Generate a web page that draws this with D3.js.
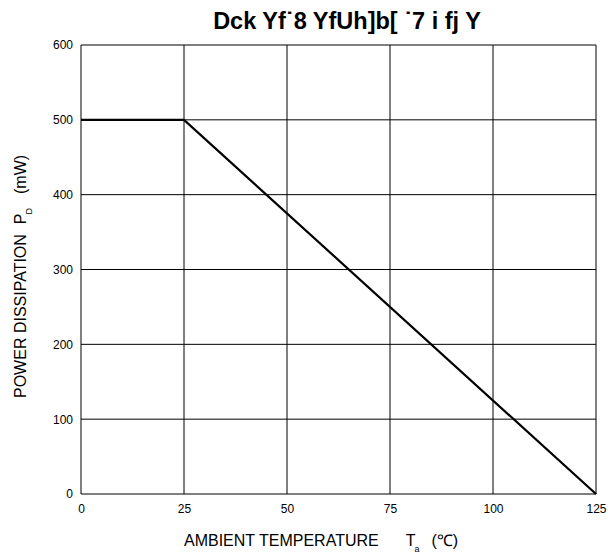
<!DOCTYPE html>
<html lang="en">
<head>
  <meta charset="UTF-8">
  <title>Power Derating Curve</title>
  <script src="https://d3js.org/d3.v7.min.js"></script>
  <style>
    body { margin: 0; background: #fff; font-family: "Liberation Sans", Arial, sans-serif; }
    .tick text { font-size: 12px; fill: #000; }
    .label { font-size: 16px; fill: #000; }
  </style>
</head>
<body>
  <svg width="608" height="553"></svg>
  <script>
    const temps = [0, 25, 125];
    const power = [500, 500, 0];
    const xTicks = [0, 25, 50, 75, 100, 125];
    const yTicks = [0, 100, 200, 300, 400, 500, 600];

    const svg = d3.select("svg"),
          margin = {top: 45, right: 12, bottom: 59, left: 81};
    const width = 608, height = 553;

    const x = d3.scaleLinear().domain([0, 125]).range([margin.left, width - margin.right]);
    const y = d3.scaleLinear().domain([0, 600]).range([height - margin.bottom, margin.top]);

    // grid
    svg.append("g").selectAll("line").data(xTicks).enter().append("line")
      .attr("x1", d => x(d)).attr("x2", d => x(d))
      .attr("y1", y(0)).attr("y2", y(600))
      .attr("stroke", "#000").attr("stroke-width", 1);
    svg.append("g").selectAll("line").data(yTicks).enter().append("line")
      .attr("x1", x(0)).attr("x2", x(125))
      .attr("y1", d => y(d)).attr("y2", d => y(d))
      .attr("stroke", "#000").attr("stroke-width", 1);

    // axes (labels only)
    const xAxis = svg.append("g")
      .attr("transform", `translate(0,${y(0)})`)
      .call(d3.axisBottom(x).tickValues(xTicks).tickSize(0).tickPadding(10).tickFormat(d3.format("d")));
    xAxis.select(".domain").remove();
    const yAxis = svg.append("g")
      .attr("transform", `translate(${x(0)},0)`)
      .call(d3.axisLeft(y).tickValues(yTicks).tickSize(0).tickPadding(8).tickFormat(d3.format("d")));
    yAxis.select(".domain").remove();
    svg.selectAll(".tick text").attr("font-family", "Liberation Sans, Arial, sans-serif");

    // data line
    const pts = temps.map((t, i) => [t, power[i]]);
    svg.append("path")
      .datum(pts)
      .attr("fill", "none")
      .attr("stroke", "#000")
      .attr("stroke-width", 2.2)
      .attr("d", d3.line().x(d => x(d[0])).y(d => y(d[1])));

    // title
    svg.append("text")
      .attr("x", 347).attr("y", 29)
      .attr("text-anchor", "middle")
      .attr("font-weight", "bold")
      .attr("font-size", 23.5)
      .text("Dck Yf\u02D98 YfUh]b[ \u02D97 i fj Y");

    // x label
    const xl = svg.append("text").attr("class", "label")
      .attr("x", 184).attr("y", 546);
    xl.append("tspan").text("AMBIENT TEMPERATURE");
    xl.append("tspan").attr("dx", 27).text("T");
    xl.append("tspan").attr("dy", 6).attr("dx", -1).attr("font-size", 9).text("a");
    xl.append("tspan").attr("dy", -6).attr("dx", 12).text("(\u2103)");

    // y label
    const yl = svg.append("text").attr("class", "label")
      .attr("transform", "translate(26,398) rotate(-90)");
    yl.append("tspan").text("POWER DISSIPATION");
    yl.append("tspan").attr("dx", 10).text("P");
    yl.append("tspan").attr("dy", 6).attr("dx", -1).attr("font-size", 9).text("D");
    yl.append("tspan").attr("dy", -6).attr("dx", 14).text("(mW)");
  </script>
</body>
</html>
